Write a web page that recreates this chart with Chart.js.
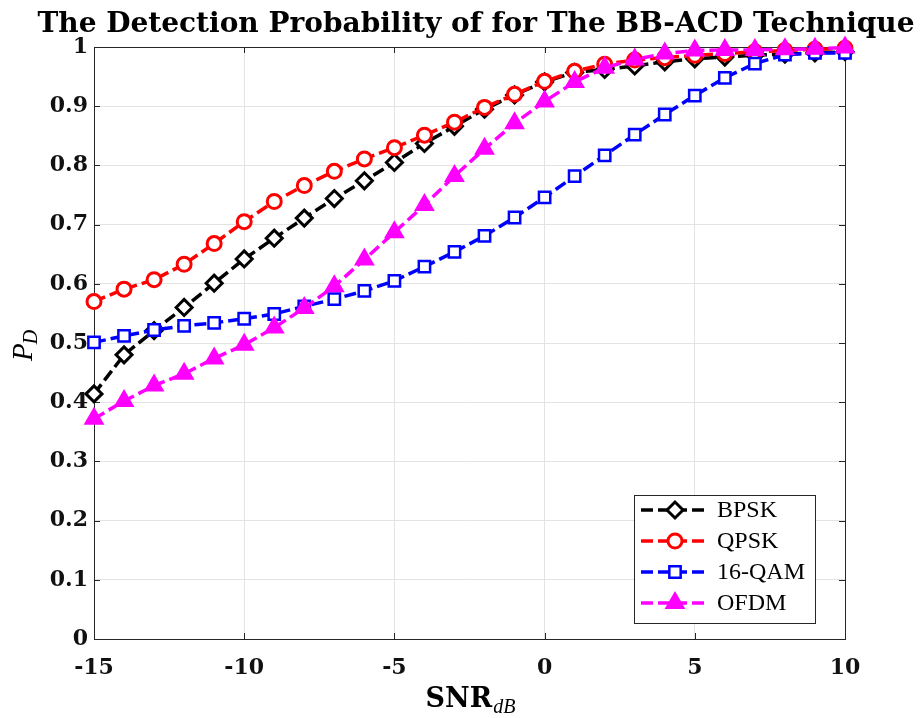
<!DOCTYPE html>
<html>
<head>
<meta charset="utf-8">
<script src="https://cdn.jsdelivr.net/npm/chart.js@4.4.1/dist/chart.umd.min.js"></script>
<style>
  html, body { margin: 0; padding: 0; background: #fff; }
</style>
</head>
<body>
<canvas id="pdChart" width="923" height="718"></canvas>
<script>
// SNR in dB (x axis)
var snr = [-15, -14, -13, -12, -11, -10, -9, -8, -7, -6, -5, -4, -3, -2, -1, 0, 1, 2, 3, 4, 5, 6, 7, 8, 9, 10];

// detection probability per modulation
var bpsk  = [0.414, 0.480, 0.521, 0.560, 0.601, 0.642, 0.677, 0.711, 0.744, 0.774, 0.805, 0.837, 0.866, 0.895, 0.919, 0.941, 0.957, 0.962, 0.968, 0.975, 0.980, 0.983, 0.986, 0.988, 0.990, 0.992];
var qpsk  = [0.570, 0.591, 0.607, 0.633, 0.668, 0.705, 0.739, 0.766, 0.790, 0.811, 0.830, 0.851, 0.873, 0.898, 0.920, 0.942, 0.959, 0.971, 0.978, 0.982, 0.986, 0.989, 0.992, 0.994, 0.996, 0.998];
var qam16 = [0.501, 0.512, 0.522, 0.529, 0.534, 0.541, 0.549, 0.562, 0.574, 0.588, 0.605, 0.629, 0.654, 0.681, 0.712, 0.746, 0.782, 0.817, 0.852, 0.886, 0.918, 0.948, 0.972, 0.987, 0.990, 0.990];
var ofdm  = [0.372, 0.402, 0.428, 0.448, 0.474, 0.497, 0.526, 0.559, 0.596, 0.641, 0.687, 0.733, 0.782, 0.828, 0.871, 0.908, 0.941, 0.965, 0.979, 0.989, 0.994, 0.995, 0.995, 0.996, 0.997, 0.999];

var xTicks = [-15, -10, -5, 0, 5, 10];
var yTicks = [0, 0.1, 0.2, 0.3, 0.4, 0.5, 0.6, 0.7, 0.8, 0.9, 1];

var titleText = "The Detection Probability of for The BB-ACD Technique";

function toPoints(ys) {
  return snr.map(function(x, i) { return { x: x, y: ys[i] }; });
}

var axisColor = "#262626";
var tickFont = { family: "DejaVu Serif", size: 22, weight: "bold" };

// title, axis labels, box, inward ticks and legend
var decorations = {
  id: "decorations",
  beforeDatasetsDraw: function(chart) {
    var ctx = chart.ctx, a = chart.chartArea;
    var xs = chart.scales.x, ys = chart.scales.y;
    ctx.save();
    ctx.strokeStyle = axisColor;
    ctx.lineWidth = 1;
    ctx.strokeRect(Math.round(a.left) + 0.5, Math.round(a.top) + 0.5,
                   Math.round(a.right - a.left), Math.round(a.bottom - a.top));
    ctx.beginPath();
    xTicks.forEach(function(v) {
      var px = Math.round(xs.getPixelForValue(v)) + 0.5;
      ctx.moveTo(px, a.bottom); ctx.lineTo(px, a.bottom - 6);
      ctx.moveTo(px, a.top); ctx.lineTo(px, a.top + 6);
    });
    yTicks.forEach(function(v) {
      var py = Math.round(ys.getPixelForValue(v)) + 0.5;
      ctx.moveTo(a.left, py); ctx.lineTo(a.left + 6, py);
      ctx.moveTo(a.right, py); ctx.lineTo(a.right - 6, py);
    });
    ctx.stroke();
    ctx.restore();
  },
  afterDraw: function(chart) {
    var ctx = chart.ctx;
    ctx.save();
    ctx.fillStyle = "#000";

    // title
    ctx.font = "bold 27px 'DejaVu Serif'";
    ctx.textAlign = "center";
    ctx.textBaseline = "alphabetic";
    var tw = ctx.measureText(titleText).width;
    ctx.save();
    ctx.translate(476, 32);
    ctx.scale(877 / tw, 1);
    ctx.fillText(titleText, 0, 0);
    ctx.restore();

    // x label: SNR_dB
    ctx.textAlign = "left";
    ctx.font = "bold 27px 'DejaVu Serif'";
    var w1 = ctx.measureText("SNR").width;
    ctx.font = "italic 20px 'Liberation Serif'";
    var w2 = ctx.measureText("dB").width;
    var x0 = 470 - (w1 + w2) / 2;
    ctx.font = "bold 27px 'DejaVu Serif'";
    ctx.fillText("SNR", x0, 707);
    ctx.font = "italic 20px 'Liberation Serif'";
    ctx.fillText("dB", x0 + w1 + 1, 713);

    // y label: P_D
    ctx.save();
    ctx.translate(32, 345);
    ctx.rotate(-Math.PI / 2);
    ctx.font = "italic 29px 'Liberation Serif'";
    var p1 = ctx.measureText("P").width;
    ctx.font = "italic 20px 'Liberation Serif'";
    var p2 = ctx.measureText("D").width;
    var s0 = -(p1 + p2) / 2;
    ctx.font = "italic 29px 'Liberation Serif'";
    ctx.fillText("P", s0, 0);
    ctx.font = "italic 20px 'Liberation Serif'";
    ctx.fillText("D", s0 + p1 - 1, 5);
    ctx.restore();

    // legend box
    ctx.fillStyle = "#fff";
    ctx.fillRect(634, 495, 181, 128);
    ctx.strokeStyle = axisColor;
    ctx.lineWidth = 1;
    ctx.strokeRect(634.5, 495.5, 181, 128);
    var rows = [510, 541, 572, 603];
    chart.data.datasets.forEach(function(ds, i) {
      var ry = rows[i];
      ctx.save();
      ctx.strokeStyle = ds.borderColor;
      ctx.lineWidth = ds.borderWidth;
      ctx.setLineDash(ds.borderDash);
      ctx.beginPath();
      ctx.moveTo(641, ry); ctx.lineTo(708, ry);
      ctx.stroke();
      ctx.setLineDash([]);
      ctx.fillStyle = ds.pointBackgroundColor;
      ctx.strokeStyle = ds.pointBorderColor;
      ctx.lineWidth = ds.pointBorderWidth;
      Chart.helpers.drawPoint(ctx, {
        pointStyle: ds.pointStyle, radius: ds.pointRadius,
        borderWidth: ds.pointBorderWidth, rotation: 0
      }, 675, ry);
      ctx.restore();
      ctx.fillStyle = "#000";
      ctx.font = "24px 'Liberation Serif'";
      ctx.textBaseline = "middle";
      ctx.textAlign = "left";
      ctx.fillText(ds.label, 717, ry + 1);
    });
    ctx.restore();
  }
};

var ctx = document.getElementById("pdChart").getContext("2d");

var pdChart = new Chart(ctx, {
  type: "line",
  data: {
    datasets: [{
      label: "BPSK",
      data: toPoints(bpsk),
      borderColor: "#000000",
      pointBackgroundColor: "#ffffff",
      pointBorderColor: "#000000",
      pointStyle: "rectRot",
      pointRadius: 8,
      pointBorderWidth: 3,
      borderWidth: 3.5,
      borderDash: [12, 5],
      order: 4
    }, {
      label: "QPSK",
      data: toPoints(qpsk),
      borderColor: "#ff0000",
      pointBackgroundColor: "#ffffff",
      pointBorderColor: "#ff0000",
      pointStyle: "circle",
      pointRadius: 7,
      pointBorderWidth: 3,
      borderWidth: 3.5,
      borderDash: [12, 5],
      order: 3
    }, {
      label: "16-QAM",
      data: toPoints(qam16),
      borderColor: "#0000ff",
      pointBackgroundColor: "#ffffff",
      pointBorderColor: "#0000ff",
      pointStyle: "rect",
      pointRadius: 8,
      pointBorderWidth: 2.5,
      borderWidth: 3.5,
      borderDash: [12, 5],
      order: 2
    }, {
      label: "OFDM",
      data: toPoints(ofdm),
      borderColor: "#ff00ff",
      pointBackgroundColor: "#ff00ff",
      pointBorderColor: "#ff00ff",
      pointStyle: "triangle",
      pointRadius: 10,
      pointBorderWidth: 2,
      borderWidth: 3.5,
      borderDash: [12, 5],
      order: 1
    }]
  },
  options: {
    responsive: false,
    animation: false,
    clip: false,
    layout: { padding: { left: 0, top: 47, right: 78, bottom: 0 } },
    elements: { line: { tension: 0 } },
    plugins: {
      legend: { display: false },
      title: { display: false },
      tooltip: { enabled: false }
    },
    scales: {
      x: {
        type: "linear",
        min: -15,
        max: 10,
        afterBuildTicks: function(scale) {
          scale.ticks = xTicks.map(function(v) { return { value: v }; });
        },
        afterFit: function(scale) { scale.height = 79; },
        grid: { color: "#e3e3e3", lineWidth: 1, drawTicks: false },
        border: { display: false },
        ticks: { color: "#111", font: tickFont, padding: 16, maxRotation: 0 }
      },
      y: {
        type: "linear",
        min: 0,
        max: 1,
        afterBuildTicks: function(scale) {
          scale.ticks = yTicks.map(function(v) { return { value: v }; });
        },
        afterFit: function(scale) { scale.width = 94; },
        grid: { color: "#e3e3e3", lineWidth: 1, drawTicks: false },
        border: { display: false },
        ticks: {
          color: "#111", font: tickFont, padding: 6,
          callback: function(v) { return (v === 0 || v === 1) ? String(v) : v.toFixed(1); }
        }
      }
    }
  },
  plugins: [decorations]
});
</script>
</body>
</html>
